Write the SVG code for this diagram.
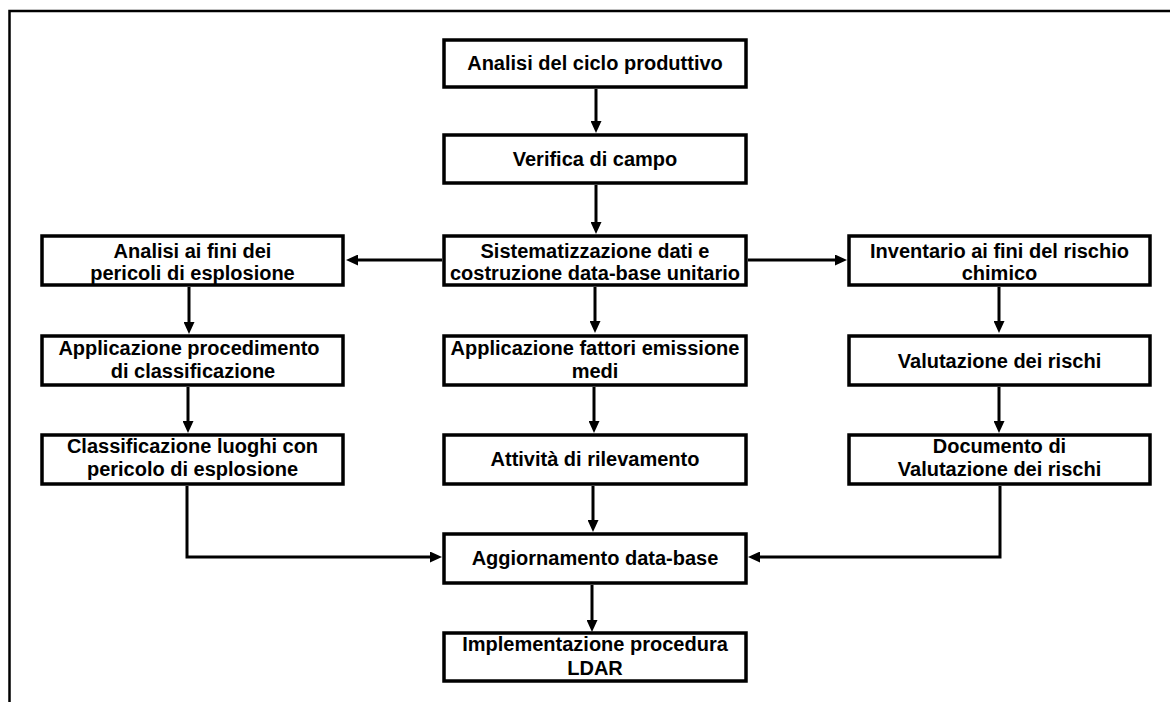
<svg xmlns="http://www.w3.org/2000/svg" width="1170" height="702" viewBox="0 0 1170 702">
<style>
.box{fill:#fff;stroke:#000;stroke-width:3.5}
.t{font-family:"Liberation Sans",Arial,sans-serif;font-weight:bold;font-size:20px;fill:#000;text-anchor:middle}
.c{fill:none;stroke:#000;stroke-width:3}
.frame{fill:none;stroke:#000;stroke-width:2.5}
</style>
<defs>
<marker id="ah" viewBox="0 0 12 11" markerWidth="12" markerHeight="11" refX="1" refY="5.5" orient="auto" markerUnits="userSpaceOnUse">
<path d="M0,0 L12,5.5 L0,11 z" fill="#000"/>
</marker>
</defs>
<rect width="1170" height="702" fill="#fff"/>
<path class="frame" d="M9.5,702 V11 H1170"/>

<g id="n1"><rect class="box" x="444" y="40" width="302" height="47"/><text class="t" x="595" y="70">Analisi del ciclo produttivo</text></g>
<g id="n2"><rect class="box" x="444" y="135" width="302" height="48"/><text class="t" x="595" y="166">Verifica di campo</text></g>
<g id="n3"><rect class="box" x="444" y="236" width="302" height="49"/><text class="t" x="595" y="258">Sistematizzazione dati e</text><text class="t" x="595" y="280">costruzione data-base unitario</text></g>
<g id="n4"><rect class="box" x="42" y="236" width="301" height="49"/><text class="t" x="192.5" y="258">Analisi ai fini dei</text><text class="t" x="192.5" y="280">pericoli di esplosione</text></g>
<g id="n5"><rect class="box" x="849" y="236" width="301" height="49"/><text class="t" x="999.5" y="258">Inventario ai fini del rischio</text><text class="t" x="999.5" y="280">chimico</text></g>
<g id="n6"><rect class="box" x="42" y="336" width="301" height="49"/><text class="t" x="189" y="355">Applicazione procedimento</text><text class="t" x="193" y="378">di classificazione</text></g>
<g id="n7"><rect class="box" x="444" y="336" width="302" height="49"/><text class="t" x="595" y="355">Applicazione fattori emissione</text><text class="t" x="595" y="378">medi</text></g>
<g id="n8"><rect class="box" x="849" y="336" width="301" height="49"/><text class="t" x="999.5" y="368">Valutazione dei rischi</text></g>
<g id="n9"><rect class="box" x="42" y="435" width="301" height="49"/><text class="t" x="192.5" y="453">Classificazione luoghi con</text><text class="t" x="192.5" y="476">pericolo di esplosione</text></g>
<g id="n10"><rect class="box" x="444" y="435" width="302" height="49"/><text class="t" x="595" y="466">Attività di rilevamento</text></g>
<g id="n11"><rect class="box" x="849" y="435" width="301" height="49"/><text class="t" x="999.5" y="453">Documento di</text><text class="t" x="999.5" y="476">Valutazione dei rischi</text></g>
<g id="n12"><rect class="box" x="444" y="534" width="302" height="49"/><text class="t" x="595" y="565">Aggiornamento data-base</text></g>
<g id="n13"><rect class="box" x="444" y="633" width="302" height="48"/><text class="t" x="595" y="651">Implementazione procedura</text><text class="t" x="595" y="675">LDAR</text></g>

<g id="connectors">
<path class="c" marker-end="url(#ah)" d="M596,89 V122"/>
<path class="c" marker-end="url(#ah)" d="M596,185 V223"/>
<path class="c" marker-end="url(#ah)" d="M442,260 H357"/>
<path class="c" marker-end="url(#ah)" d="M748,260 H836"/>
<path class="c" marker-end="url(#ah)" d="M189,287 V323"/>
<path class="c" marker-end="url(#ah)" d="M188,387 V422"/>
<path class="c" marker-end="url(#ah)" d="M595,287 V322"/>
<path class="c" marker-end="url(#ah)" d="M594,387 V422"/>
<path class="c" marker-end="url(#ah)" d="M999,287 V322"/>
<path class="c" marker-end="url(#ah)" d="M999,387 V422"/>
<path class="c" marker-end="url(#ah)" d="M593,486 V521"/>
<path class="c" marker-end="url(#ah)" d="M187,486 V557 H431"/>
<path class="c" marker-end="url(#ah)" d="M1000,486 V557 H759"/>
<path class="c" marker-end="url(#ah)" d="M592,585 V621"/>
</g>
</svg>
